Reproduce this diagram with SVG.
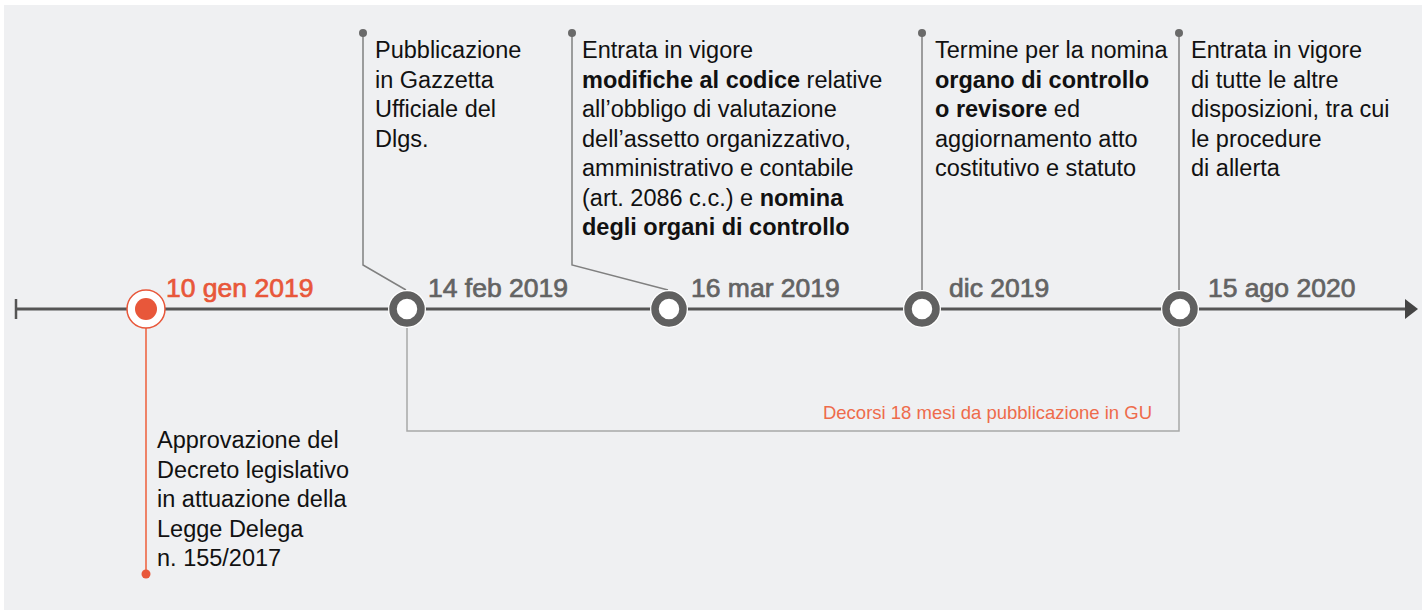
<svg xmlns="http://www.w3.org/2000/svg" width="1427" height="610" viewBox="0 0 1427 610">
<style>
.body{font-family:"Liberation Sans",Arial,sans-serif;font-size:23.5px;fill:#111}
.b{font-weight:bold}
.date{font-family:"Liberation Sans",Arial,sans-serif;font-size:26.5px;fill:#636363;stroke:#636363;stroke-width:0.7px}
.lead{fill:none;stroke:#808080;stroke-width:1.5}
.dot{fill:#6a6a6a}
.ring{fill:#fff;stroke:#606060;stroke-width:7.5}
.halo{fill:#fff}
</style>
<rect x="4" y="5" width="1418" height="605" fill="#eff0f2"/>
<g id="connectors">
<line x1="16" y1="309" x2="1408" y2="309" stroke="#555" stroke-width="3"/>
<line x1="16" y1="299" x2="16" y2="319" stroke="#555" stroke-width="2.5"/>
<polygon points="1405,299 1418,309 1405,319" fill="#444"/>
<polyline class="lead" points="363,33 363,265 406,290"/>
<polyline class="lead" points="572,33 572,265 668,290"/>
<polyline class="lead" points="922,33 922,290"/>
<polyline class="lead" points="1179,33 1179,290"/>
<circle class="dot" cx="363" cy="33" r="4"/>
<circle class="dot" cx="572" cy="33" r="4"/>
<circle class="dot" cx="922" cy="33" r="4"/>
<circle class="dot" cx="1179" cy="33" r="4"/>
<line x1="146" y1="328" x2="146" y2="574" stroke="#ee7658" stroke-width="1.8"/>
<circle cx="146" cy="574" r="4.5" fill="#e8573a"/>
<polyline fill="none" stroke="#a8a8a8" stroke-width="1.5" points="407,328 407,431 1179,431 1179,328"/>
<text x="1152" y="419" text-anchor="end" font-family="'Liberation Sans',Arial,sans-serif" font-size="18.5" fill="#ee6b4b">Decorsi 18 mesi da pubblicazione in GU</text>
</g>
<g id="node1">
<circle cx="146" cy="309" r="19" fill="#fff" stroke="#e8573a" stroke-width="1.5"/>
<circle cx="146" cy="309" r="11" fill="#e8573a"/>
<text x="166" y="297" class="date" style="fill:#e8573a;stroke:#e8573a">10 gen 2019</text>
<text class="body"><tspan x="157" y="448">Approvazione del</tspan><tspan x="157" y="477.5">Decreto legislativo</tspan><tspan x="157" y="507">in attuazione della</tspan><tspan x="157" y="536.5">Legge Delega</tspan><tspan x="157" y="566">n. 155/2017</tspan></text>
</g>
<g id="node2">
<circle class="halo" cx="407" cy="309" r="19"/>
<circle class="ring" cx="407" cy="309" r="14"/>
<text x="428" y="297" class="date">14 feb 2019</text>
<text class="body"><tspan x="375" y="58">Pubblicazione</tspan><tspan x="375" y="87.5">in Gazzetta</tspan><tspan x="375" y="117">Ufficiale del</tspan><tspan x="375" y="146.5">Dlgs.</tspan></text>
</g>
<g id="node3">
<circle class="halo" cx="669" cy="309" r="19"/>
<circle class="ring" cx="669" cy="309" r="14"/>
<text x="691" y="297" class="date">16 mar 2019</text>
<text class="body"><tspan x="582" y="58">Entrata in vigore</tspan><tspan x="582" y="87.5"><tspan class="b">modifiche al codice</tspan> relative</tspan><tspan x="582" y="117">all’obbligo di valutazione</tspan><tspan x="582" y="146.5">dell’assetto organizzativo,</tspan><tspan x="582" y="176">amministrativo e contabile</tspan><tspan x="582" y="205.5">(art. 2086 c.c.) e <tspan class="b">nomina</tspan></tspan><tspan x="582" y="235" class="b">degli organi di controllo</tspan></text>
</g>
<g id="node4">
<circle class="halo" cx="922" cy="309" r="19"/>
<circle class="ring" cx="922" cy="309" r="14"/>
<text x="949" y="297" class="date">dic 2019</text>
<text class="body"><tspan x="935" y="58">Termine per la nomina</tspan><tspan x="935" y="87.5" class="b">organo di controllo</tspan><tspan x="935" y="117"><tspan class="b">o revisore</tspan> ed</tspan><tspan x="935" y="146.5">aggiornamento atto</tspan><tspan x="935" y="176">costitutivo e statuto</tspan></text>
</g>
<g id="node5">
<circle class="halo" cx="1180" cy="309" r="19"/>
<circle class="ring" cx="1180" cy="309" r="14"/>
<text x="1208" y="297" class="date">15 ago 2020</text>
<text class="body"><tspan x="1191" y="58">Entrata in vigore</tspan><tspan x="1191" y="87.5">di tutte le altre</tspan><tspan x="1191" y="117">disposizioni, tra cui</tspan><tspan x="1191" y="146.5">le procedure</tspan><tspan x="1191" y="176">di allerta</tspan></text>
</g>
</svg>
